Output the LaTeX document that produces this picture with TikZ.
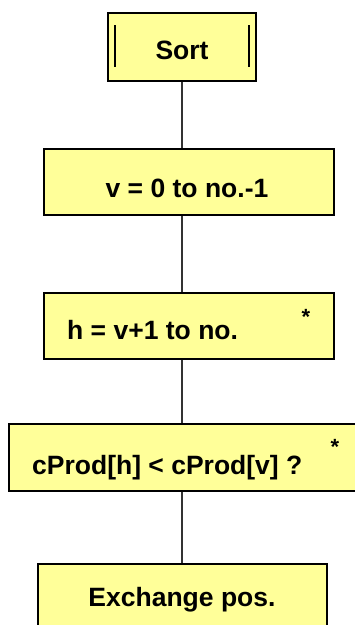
\documentclass[tikz,border=0pt]{standalone}
\usepackage{fontspec}
\setmainfont{Liberation Sans}
\usepackage{xcolor}
\definecolor{cBox}{HTML}{FFFF99}
\definecolor{cLine}{HTML}{333333}
\usetikzlibrary{positioning,calc}
\tikzset{
  node-box/.style={draw=black,line width=2pt,fill=cBox,inner sep=0pt,
    anchor=north west},
  node-text/.style={font=\bfseries\fontsize{26.5}{30}\selectfont,inner sep=0pt},
  node-star/.style={font=\bfseries\fontsize{22}{24}\selectfont,inner sep=0pt},
  link/.style={draw=cLine,line width=1.1pt},
  side-bar/.style={draw=black,line width=2.6pt},
}
\begin{document}
\begin{tikzpicture}[x=1pt,y=-1pt]
  \useasboundingbox (0,0) rectangle (355,625);
  % boxes, top to bottom
  \node[node-box,minimum width=148pt,minimum height=68pt] (sort)  at (107,12)  {};
  \node[node-box,minimum width=290pt,minimum height=66pt] (vloop) at (43,148)  {};
  \node[node-box,minimum width=290pt,minimum height=66pt] (hloop) at (43,292)  {};
  \node[node-box,minimum width=352pt,minimum height=67pt] (cmp)   at (8,423)   {};
  \node[node-box,minimum width=289pt,minimum height=80pt] (swap)  at (37,563)  {};
  % sub-program bars of the title box
  \draw[side-bar] ([xshift=8pt,yshift=-13pt]sort.north west) -- ([xshift=8pt,yshift=15pt]sort.south west);
  \draw[side-bar] ([xshift=-8pt,yshift=-13pt]sort.north east) -- ([xshift=-8pt,yshift=15pt]sort.south east);
  % texts
  \node[node-text] (sort-t)  at (182,50)  {Sort};
  \node[node-text] (vloop-t) at (187,188) {v = 0 to no.-1};
  \node[node-text,anchor=west] (hloop-t) at (67,330) {h = v+1 to no.};
  \node[node-text,anchor=west] (cmp-t)   at (32,468) {cProd[h] < cProd[v] ?};
  \node[node-text] (swap-t)  at (182,600) {Exchange pos.};
  \node[node-star] (hloop-s) at (306,317) {*};
  \node[node-star] (cmp-s)   at (335,447) {*};
  % connectors
  \draw[link] (sort.south) -- (sort.south |- vloop.north);
  \draw[link] (sort.south |- vloop.south) -- (sort.south |- hloop.north);
  \draw[link] (sort.south |- hloop.south) -- (sort.south |- cmp.north);
  \draw[link] (sort.south |- cmp.south) -- (sort.south |- swap.north);
\end{tikzpicture}
\end{document}
